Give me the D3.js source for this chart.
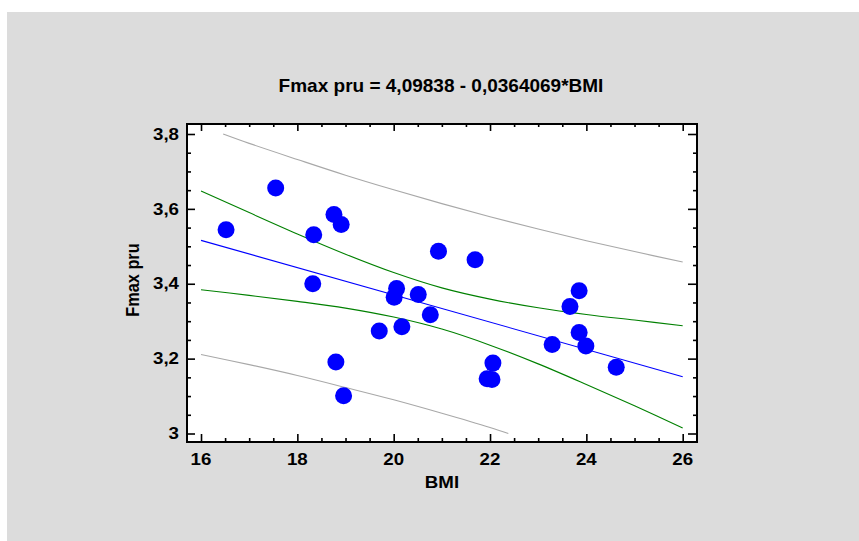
<!DOCTYPE html>
<html>
<head>
<meta charset="utf-8">
<script src="https://cdn.jsdelivr.net/npm/d3@7"></script>
<style>
  html, body { margin: 0; padding: 0; background: #ffffff; }
  svg { display: block; }
  text { font-family: "Liberation Sans", Arial, sans-serif; font-weight: bold; fill: #000; }
</style>
</head>
<body>
<svg id="chart" width="859" height="541"></svg>
<script>
// ---- data ----
const bmi  = [16.52, 17.55, 18.34, 18.32, 18.76, 18.91, 18.80, 18.96, 19.70, 20.01, 20.06, 20.17, 20.51,
              20.76, 20.93, 21.69, 21.94, 22.04, 22.06, 23.29, 23.66, 23.85, 23.85, 23.99, 24.62];
const fmax = [3.544, 3.656, 3.531, 3.400, 3.585, 3.558, 3.191, 3.101, 3.274, 3.364, 3.387, 3.285, 3.371,
              3.317, 3.487, 3.464, 3.146, 3.144, 3.188, 3.238, 3.339, 3.381, 3.270, 3.234, 3.177];

// fitted line (from the title) end points
const fitX = [16, 26];
const fitY = [3.5159, 3.1518];

// confidence band (green)
const bandX      = [16, 17, 18, 19, 20, 21, 22, 23, 24, 25, 26];
const confUpper  = [3.648, 3.590, 3.533, 3.479, 3.430, 3.389, 3.359, 3.336, 3.318, 3.303, 3.288];
const confLower  = [3.384, 3.369, 3.353, 3.335, 3.311, 3.279, 3.236, 3.186, 3.131, 3.074, 3.015];

// prediction band (gray)
const predUpperX = [16.46, 17, 18, 19, 20, 21, 22, 23, 24, 25, 26];
const predUpper  = [3.800, 3.775, 3.732, 3.690, 3.651, 3.614, 3.579, 3.546, 3.515, 3.486, 3.458];
const predLowerX = [16, 17, 18, 19, 20, 21, 22, 22.38];
const predLower  = [3.211, 3.184, 3.155, 3.123, 3.090, 3.054, 3.016, 3.000];

// ticks
const xMajor = [16, 18, 20, 22, 24, 26];
const xLabels = ["16", "18", "20", "22", "24", "26"];
const yMajor = [3.0, 3.2, 3.4, 3.6, 3.8];
const yLabels = ["3", "3,2", "3,4", "3,6", "3,8"];

const titleText = "Fmax pru = 4,09838 - 0,0364069*BMI";
const xTitle = "BMI";
const yTitle = "Fmax pru";

// ---- layout ----
const svg = d3.select("#chart");
const L = 187, R = 697, T = 124, B = 442;

svg.append("rect").attr("x", 7).attr("y", 12).attr("width", 852).attr("height", 529).attr("fill", "#dcdcdc");
svg.append("rect").attr("x", L).attr("y", T).attr("width", R - L).attr("height", B - T).attr("fill", "#ffffff");

const x = d3.scaleLinear().domain([15.709, 26.297]).range([L, R]);
const y = d3.scaleLinear().domain([2.9773, 3.8267]).range([B, T]);

const xMinor = d3.range(16, 26.001, 0.5).filter(v => !xMajor.some(m => Math.abs(m - v) < 1e-6));
const yMinor = d3.range(3.0, 3.8001, 0.05).filter(v => !yMajor.some(m => Math.abs(m - v) < 1e-6));

function axisGroup(axis, tx, ty) {
  const g = svg.append("g").attr("transform", `translate(${tx},${ty})`).call(axis);
  g.select(".domain").remove();
  g.selectAll("line").attr("stroke", "#000").attr("stroke-width", 1.6);
  g.selectAll("text").remove();
  return g;
}
// major ticks (inward) on all four sides
axisGroup(d3.axisBottom(x).tickValues(xMajor).tickSize(-8), 0, B);
axisGroup(d3.axisTop(x).tickValues(xMajor).tickSize(-7), 0, T);
axisGroup(d3.axisLeft(y).tickValues(yMajor).tickSize(-8), L, 0);
axisGroup(d3.axisRight(y).tickValues(yMajor).tickSize(-9), R, 0);
// minor ticks
axisGroup(d3.axisBottom(x).tickValues(xMinor).tickSize(-4), 0, B);
axisGroup(d3.axisTop(x).tickValues(xMinor).tickSize(-3), 0, T);
axisGroup(d3.axisLeft(y).tickValues(yMinor).tickSize(-4), L, 0);
axisGroup(d3.axisRight(y).tickValues(yMinor).tickSize(-4), R, 0);

// clip for lines
svg.append("clipPath").attr("id", "plotclip").append("rect")
  .attr("x", L).attr("y", T).attr("width", R - L).attr("height", B - T);
const plot = svg.append("g").attr("clip-path", "url(#plotclip)");

const lineGen = d3.line().x(d => x(d[0])).y(d => y(d[1])).curve(d3.curveCatmullRom);

function drawLine(xs, ys, color) {
  plot.append("path").datum(xs.map((v, i) => [v, ys[i]]))
    .attr("d", lineGen).attr("fill", "none").attr("stroke", color).attr("stroke-width", 1.1);
}
drawLine(predUpperX, predUpper, "#a8a8a8");
drawLine(predLowerX, predLower, "#a8a8a8");
drawLine(bandX, confUpper, "#008000");
drawLine(bandX, confLower, "#008000");
drawLine(fitX, fitY, "#0000ff");

// points
plot.selectAll("circle.pt").data(bmi.map((v, i) => [v, fmax[i]])).enter()
  .append("circle").attr("class", "pt")
  .attr("cx", d => x(d[0])).attr("cy", d => y(d[1])).attr("r", 8.5)
  .attr("fill", "#0000ff");

// frame
svg.append("rect").attr("x", L).attr("y", T).attr("width", R - L).attr("height", B - T)
  .attr("fill", "none").attr("stroke", "#000").attr("stroke-width", 2);

// text helper with horizontal stretch
function label(str, px, py, size, anchor, sx) {
  return svg.append("text")
    .attr("transform", `translate(${px},${py}) scale(${sx},1)`)
    .attr("text-anchor", anchor)
    .style("font-size", size + "px")
    .text(str);
}
xMajor.forEach((v, i) => label(xLabels[i], x(v), 465, 16, "middle", 1.17));
yMajor.forEach((v, i) => label(yLabels[i], 179, y(v) + 5.7, 16, "end", 1.17));

label(titleText, 441, 92, 19, "middle", 1.0);
label(xTitle, 442, 488, 17, "middle", 1.1);

svg.append("text")
  .attr("transform", `translate(139,${280}) scale(1.17,1) rotate(-90)`)
  .attr("text-anchor", "middle")
  .style("font-size", "16.3px")
  .text(yTitle);
</script>
</body>
</html>
